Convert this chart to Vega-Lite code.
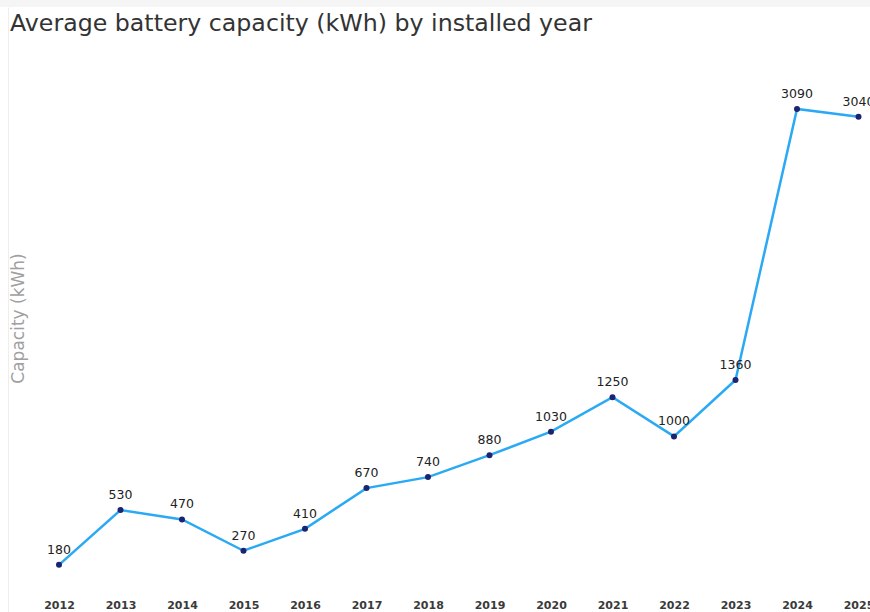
{
  "$schema": "https://vega.github.io/schema/vega-lite/v6.json",
  "autosize": "none",
  "width": 870,
  "height": 605,
  "padding": {"left": 0, "top": 7, "right": 0, "bottom": 0},
  "background": "#f5f5f5",
  "view": {"fill": "white", "stroke": null},
  "title": {
    "text": "Average battery capacity (kWh) by installed year",
    "anchor": "start",
    "frame": "group",
    "orient": "top",
    "offset": -24,
    "dx": 10,
    "dy": 24,
    "baseline": "alphabetic",
    "font": "DejaVu Sans",
    "fontSize": 23.7,
    "fontWeight": "normal",
    "color": "#333333"
  },
  "data": {
    "values": [
      {"year": 2012, "capacity": 180},
      {"year": 2013, "capacity": 530},
      {"year": 2014, "capacity": 470},
      {"year": 2015, "capacity": 270},
      {"year": 2016, "capacity": 410},
      {"year": 2017, "capacity": 670},
      {"year": 2018, "capacity": 740},
      {"year": 2019, "capacity": 880},
      {"year": 2020, "capacity": 1030},
      {"year": 2021, "capacity": 1250},
      {"year": 2022, "capacity": 1000},
      {"year": 2023, "capacity": 1360},
      {"year": 2024, "capacity": 3090},
      {"year": 2025, "capacity": 3040}
    ]
  },
  "encoding": {
    "x": {
      "field": "year",
      "type": "quantitative",
      "scale": {"domain": [2011.0407, 2025.187], "nice": false, "zero": false},
      "axis": {
        "orient": "bottom",
        "offset": -14,
        "values": [2012, 2013, 2014, 2015, 2016, 2017, 2018, 2019, 2020, 2021, 2022, 2023, 2024, 2025],
        "format": "d",
        "domain": false,
        "ticks": false,
        "grid": false,
        "labelPadding": 1,
        "labelBaseline": "top",
        "labelFont": "DejaVu Sans",
        "labelFontSize": 11,
        "labelFontWeight": "bold",
        "labelColor": "#3a3a3a",
        "labelOverlap": false,
        "labelFlush": false,
        "title": null
      }
    },
    "y": {
      "field": "capacity",
      "type": "quantitative",
      "scale": {"domain": [-121, 3741], "nice": false, "zero": false},
      "axis": {
        "orient": "left",
        "offset": -8,
        "domain": true,
        "domainColor": "#eeeeee",
        "ticks": false,
        "labels": false,
        "grid": false,
        "title": "Capacity (kWh)",
        "titleFont": "DejaVu Sans",
        "titleFontSize": 17,
        "titleFontWeight": "normal",
        "titleColor": "#a0a0a0",
        "titleAngle": -90,
        "titleX": 10,
        "titleY": 311,
        "titleAlign": "center",
        "titleBaseline": "middle"
      }
    }
  },
  "layer": [
    {
      "mark": {"type": "line", "color": "#2aa9f4", "strokeWidth": 2.5}
    },
    {
      "mark": {"type": "circle", "color": "#1a2470", "size": 36, "opacity": 1}
    },
    {
      "mark": {"type": "text", "dy": -15, "font": "DejaVu Sans", "fontSize": 12.5, "color": "#222222"},
      "encoding": {"text": {"field": "capacity", "type": "quantitative"}}
    }
  ]
}
